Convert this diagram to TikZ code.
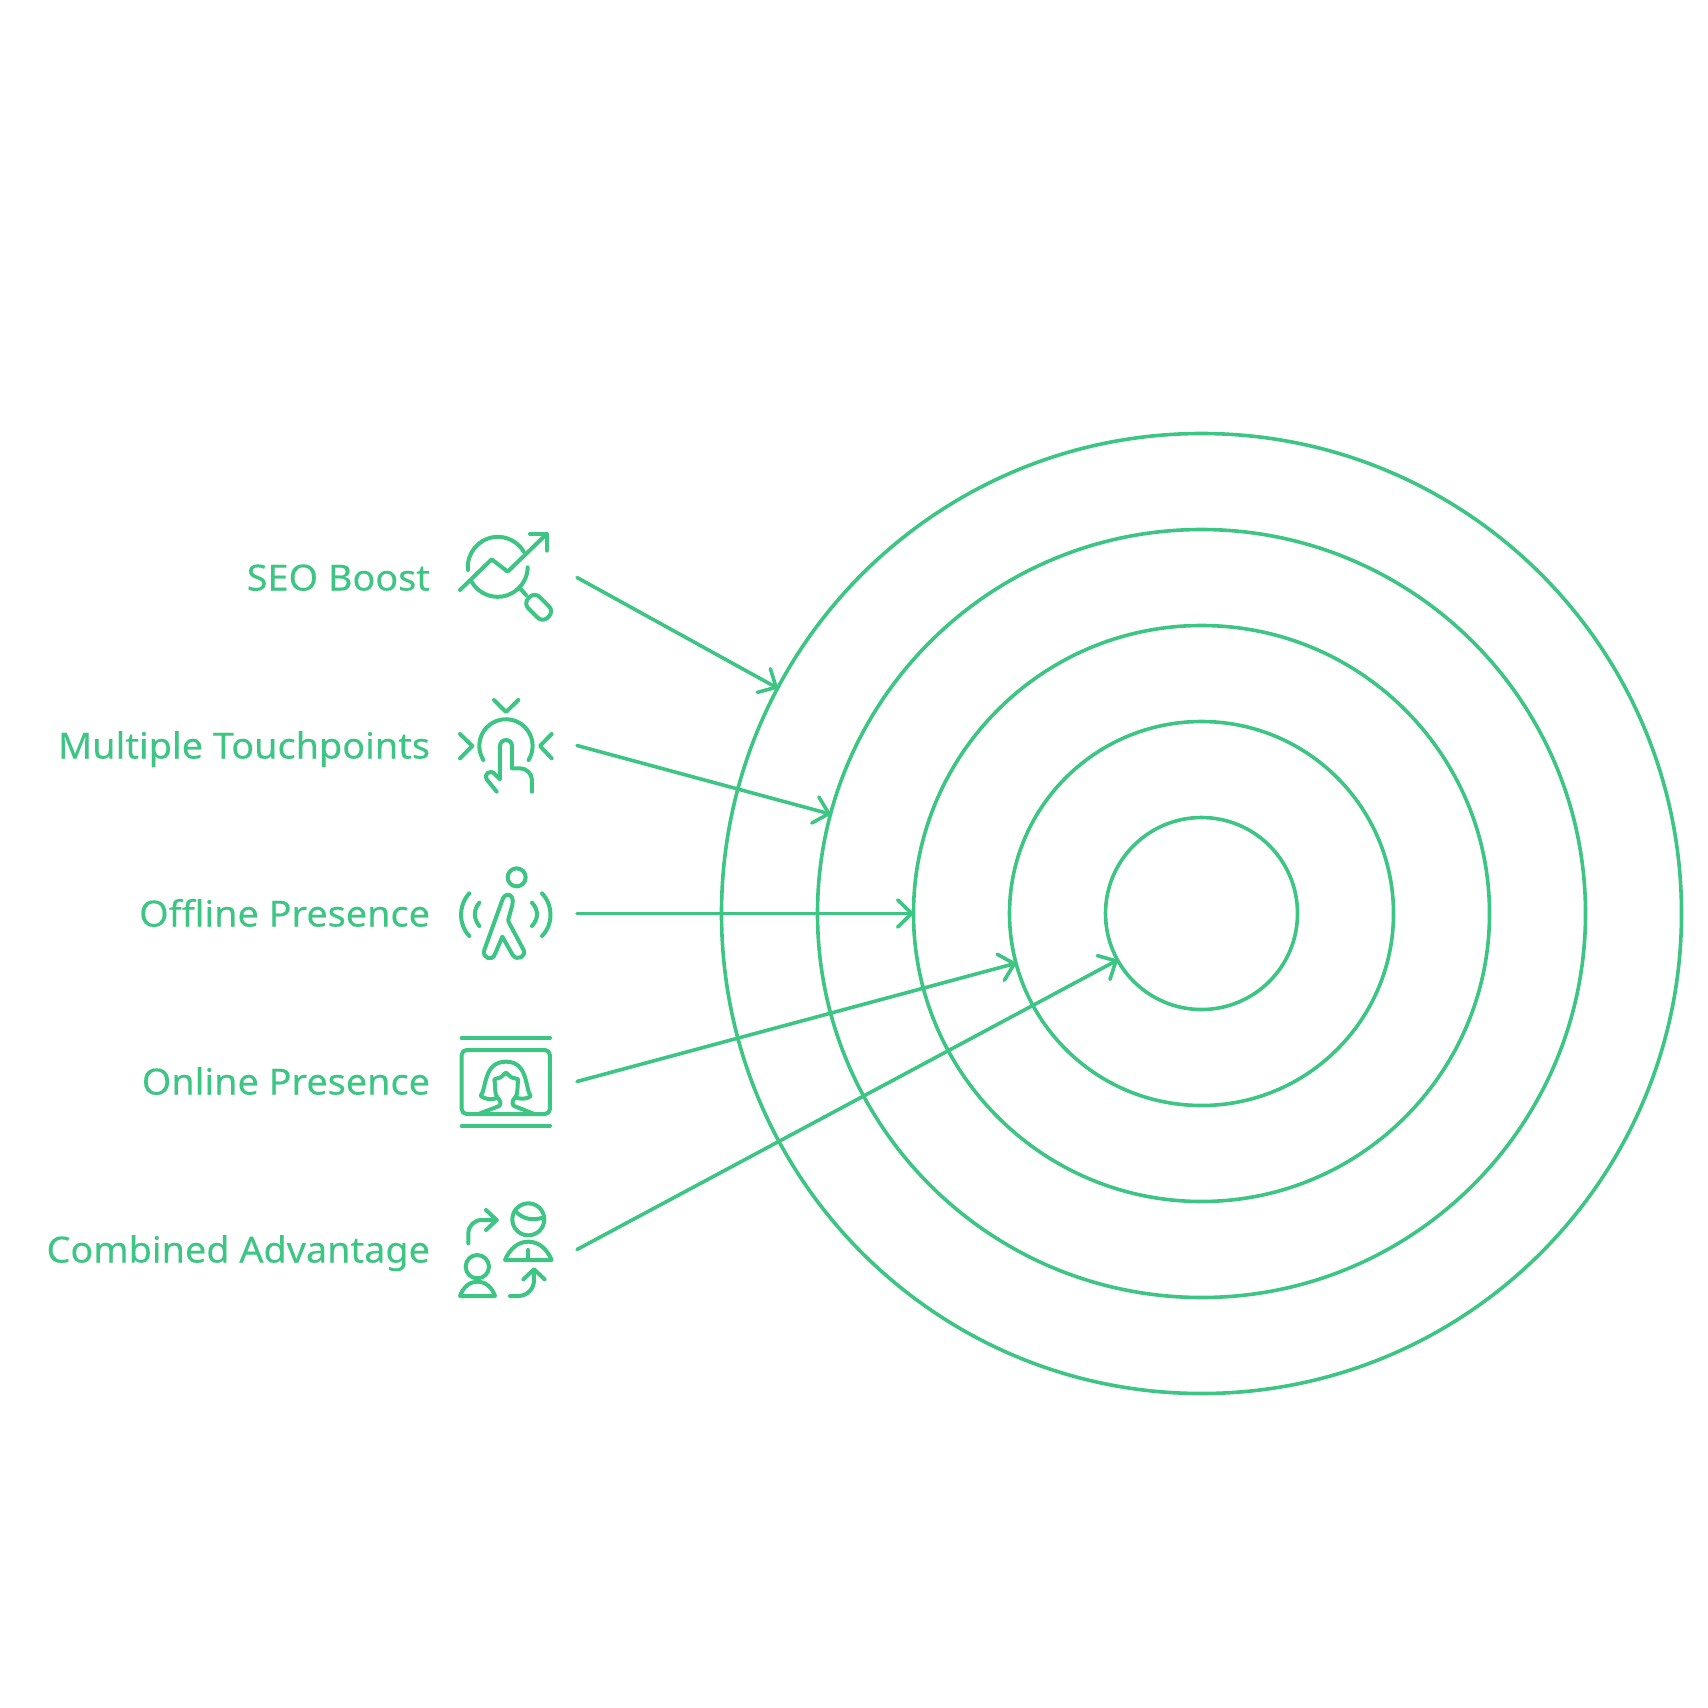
\documentclass[tikz,border=0pt]{standalone}
\usepackage{fontspec}
\setmainfont[FakeStretch=1.05,FakeBold=0.25]{Noto Sans}
\usetikzlibrary{arrows.meta}
\usetikzlibrary{positioning}
\definecolor{ringgreen}{HTML}{3CC583}
\tikzset{
    ring/.style={
      circle,
           draw=ringgreen, line width=3.6pt,
           inner sep=0pt,
           outer sep=0pt,
           },
}
\tikzset{
    lbl/.style={
      text=ringgreen,
           font=\fontsize{36}{36}\selectfont,
           inner sep=0pt,
           outer sep=0pt,
           minimum height=38pt,
           text height=32pt,
           text depth=6pt,
           },
}
\tikzset{
    pointer/.style={
      draw=ringgreen, line width=3.6pt, line cap=round, line join=round,
           -{Straight Barb[length=14pt,width=27pt,round]},
           },
}
\tikzset{
    icon/.style={
      draw=ringgreen, line width=4pt, line cap=round, line join=round,
           },
}
\tikzset{
    iconbox/.style={
      x=0.3333pt, y=-0.3333pt,
           },
}
\begin{document}
\begin{tikzpicture}[x=1pt,y=-1pt]
\useasboundingbox (0,0) rectangle (1708,1708);

\node[ring,minimum size=192pt](core) at (1201.5,913.5){};
\node[ring,minimum size=384pt](second) at (core){};
\node[ring,minimum size=576pt](third) at (core){};
\node[ring,minimum size=768pt](fourth) at (core){};
\node[ring,minimum size=960pt](outer) at (core){};

\node[lbl,anchor=east](seo) at (430,577.5){SEO Boost};
\node[lbl,below=130pt of seo.south east,anchor=north east](touch){Multiple Touchpoints};
\node[lbl,below=130pt of touch.south east,anchor=north east](offline){Offline Presence};
\node[lbl,below=130pt of offline.south east,anchor=north east](online){Online Presence};
\node[lbl,below=130pt of online.south east,anchor=north east](combined){Combined Advantage};

\coordinate[right=147pt of seo.east](seostart);
\coordinate[right=147pt of touch.east](touchstart);
\coordinate[right=147pt of offline.east](offlinestart);
\coordinate[right=147pt of online.east](onlinestart);
\coordinate[right=147pt of combined.east](combinedstart);

\path (seostart) edge[pointer](outer.152);
\path (touchstart) edge[pointer](fourth.165);
\path (offlinestart) edge[pointer](third.180);
\path (onlinestart) edge[pointer](second.195);
\path (combinedstart) edge[pointer](core.209);

% seo icon
\begin{scope}[shift={(440,510)},iconbox]
\draw[icon] (84,180) arc[start angle=174,end angle=330,radius=90];
\draw[icon] (263,172) arc[start angle=1,end angle=150,radius=90];
\draw[icon] (60,240) -- (155,148) -- (203,185) -- (320,72);
\draw[icon] (270,72) -- (320,72) -- (320,122);
\draw[icon] (240,235) -- (258,255);
\draw[icon,rounded corners=7pt] (284,246) -- (342,304) -- (308,338) -- (250,280) -- cycle;
\end{scope}

% touch icon
\begin{scope}[shift={(440,680)},iconbox]
\draw[icon] (162,60) -- (198,96) -- (235,60);
\draw[icon] (60,162) -- (97,198) -- (60,235);
\draw[icon] (335,162) -- (300,198) -- (335,235);
\draw[icon] (130,240) arc[start angle=148,end angle=392,radius=80];
\draw[icon] (170,335) -- (140,298) .. controls (130,285) and (150,265) .. (165,283) -- (180,298) -- (180,198) arc[start angle=180,end angle=360,radius=18] -- (216,265) -- (240,265) arc[start angle=-90,end angle=0,radius=36] -- (276,335);
\end{scope}

% walker icon
\begin{scope}[shift={(440,850)},iconbox]
\draw[icon] (230,82) circle[radius=27];
\draw[icon] (88,130) .. controls (55,165) and (55,225) .. (88,258);
\draw[icon] (118,158) .. controls (100,180) and (100,205) .. (118,228);
\draw[icon] (306,130) .. controls (340,165) and (340,225) .. (306,258);
\draw[icon] (276,158) .. controls (296,180) and (296,205) .. (276,228);
\draw[icon] (187,150) -- (133,300) .. controls (125,325) and (158,335) .. (165,312) -- (187,260) -- (218,315) .. controls (232,335) and (262,318) .. (250,298) -- (208,220) .. controls (203,210) and (205,205) .. (208,198) -- (217,165) .. controls (225,130) and (195,125) .. (187,150);
\end{scope}

% screen icon
\begin{scope}[shift={(440,1020)},iconbox]
\draw[icon] (65,54) -- (330,54);
\draw[icon] (65,318) -- (330,318);
\draw[icon,rounded corners=5pt] (65,90) rectangle (330,282);
\draw[icon] (172,234) .. controls (155,240) and (135,238) .. (122,228) .. controls (140,205) and (130,125) .. (198,125) .. controls (265,125) and (255,205) .. (272,228) .. controls (262,238) and (240,238) .. (226,232);
\draw[icon] (120,280) -- (178,258) .. controls (185,250) and (180,240) .. (172,232) .. controls (162,220) and (168,200) .. (163,178) -- (182,172) -- (198,158) -- (214,172) -- (235,178) .. controls (230,200) and (236,220) .. (226,232) .. controls (216,240) and (215,252) .. (222,258) -- (278,280);
\end{scope}

% swap icon
\begin{scope}[shift={(440,1190)},iconbox]
\draw[icon] (85,160) -- (85,130) arc[start angle=180,end angle=270,radius=40] -- (170,90);
\draw[icon] (138,60) -- (170,90) -- (138,120);
\draw[icon] (265,88) circle[radius=48];
\draw[icon] (225,62) .. controls (250,90) and (280,92) .. (312,82);
\draw[icon] (195,210) .. controls (210,175) and (235,155) .. (265,155) .. controls (295,155) and (320,175) .. (335,210) -- cycle;
\draw[icon] (265,180) -- (265,205);
\draw[icon] (112,230) circle[radius=35];
\draw[icon] (60,318) .. controls (70,290) and (90,275) .. (112,275) .. controls (135,275) and (155,290) .. (165,318) -- cycle;
\draw[icon] (210,318) -- (235,318) arc[start angle=90,end angle=0,radius=47] -- (282,240);
\draw[icon] (250,268) -- (282,238) -- (314,268);
\end{scope}

\end{tikzpicture}
\end{document}
